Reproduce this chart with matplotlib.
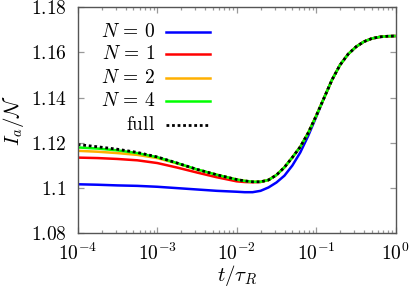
import matplotlib as mpl
mpl.use('agg')
import matplotlib.pyplot as plt
import numpy as np

mpl.rcParams['mathtext.fontset'] = 'cm'
mpl.rcParams['font.family'] = 'serif'
mpl.rcParams['font.serif'] = ['DejaVu Serif']

# log10(t / tau_R) grid
log_t = [-4.0, -3.75, -3.5, -3.25, -3.0, -2.75, -2.5, -2.25, -2.0,
         -1.9, -1.8, -1.7, -1.6, -1.5, -1.4, -1.3, -1.2, -1.1, -1.0,
         -0.9, -0.8, -0.7, -0.6, -0.5, -0.4, -0.3, -0.2, -0.1, 0.0]

full = [1.1193, 1.1183, 1.1172, 1.1158, 1.1138, 1.1111, 1.1083, 1.1059, 1.1038,
        1.1032, 1.1028, 1.1028, 1.1036, 1.1058, 1.1092, 1.1136, 1.1183, 1.1245, 1.1320,
        1.1400, 1.1480, 1.1545, 1.1592, 1.1625, 1.1648, 1.1662, 1.1669, 1.1672, 1.1673]

n0 = [1.1017, 1.1015, 1.1012, 1.1010, 1.1006, 1.1000, 1.0994, 1.0988, 1.0984,
      1.0982, 1.0982, 1.0988, 1.1003, 1.1025, 1.1055, 1.1100, 1.1158, 1.1232, 1.1315,
      1.1400, 1.1480, 1.1545, 1.1592, 1.1625, 1.1648, 1.1662, 1.1669, 1.1672, 1.1673]

n1 = [1.1135, 1.1133, 1.1129, 1.1123, 1.1111, 1.1091, 1.1069, 1.1048, 1.1030,
      1.1027, 1.1026, 1.1027, 1.1036, 1.1058, 1.1092, 1.1136, 1.1183, 1.1245, 1.1320,
      1.1400, 1.1480, 1.1545, 1.1592, 1.1625, 1.1648, 1.1662, 1.1669, 1.1672, 1.1673]

n2 = [1.1165, 1.1161, 1.1155, 1.1147, 1.1133, 1.1109, 1.1082, 1.1059, 1.1038,
      1.1032, 1.1028, 1.1028, 1.1036, 1.1058, 1.1092, 1.1136, 1.1183, 1.1245, 1.1320,
      1.1400, 1.1480, 1.1545, 1.1592, 1.1625, 1.1648, 1.1662, 1.1669, 1.1672, 1.1673]

n4 = [1.1180, 1.1175, 1.1167, 1.1155, 1.1137, 1.1111, 1.1083, 1.1059, 1.1038,
      1.1032, 1.1028, 1.1028, 1.1036, 1.1058, 1.1092, 1.1136, 1.1183, 1.1245, 1.1320,
      1.1400, 1.1480, 1.1545, 1.1592, 1.1625, 1.1648, 1.1662, 1.1669, 1.1672, 1.1673]

labels = [r'$N\,=\,0$', r'$N\,=\,1$', r'$N\,=\,2$', r'$N\,=\,4$', r'$\mathrm{full}$']
colors = ['#0000ff', '#ff0000', '#ffb000', '#00ff00', 'black']

t = 10.0 ** np.array(log_t)
series = [n0, n1, n2, n4, full]

fig = plt.figure(figsize=(4.09, 2.87), dpi=100)
ax = fig.add_axes([0.190, 0.187, 0.7775, 0.7876])

frame = '#555555'
tickc = '#999999'
for s in ax.spines.values():
    s.set_color(frame)
    s.set_linewidth(1.0)

for i, (y, c) in enumerate(zip(series, colors)):
    if i < 4:
        ax.plot(t, y, color=c, lw=1.8, solid_capstyle='butt')
    else:
        ax.plot(t, y, color=c, lw=2.0, linestyle=(0, (1, 1)))

ax.set_xscale('log')
ax.set_xlim(1e-4, 1)
ax.set_ylim(1.08, 1.18)

yt = [1.08, 1.1, 1.12, 1.14, 1.16, 1.18]
ax.set_yticks(yt)
ax.set_yticklabels(['$%g$' % v for v in yt])
xt = [1e-4, 1e-3, 1e-2, 1e-1, 1]
ax.set_xticks(xt)
ax.set_xticklabels([r'$10^{-4}$', r'$10^{-3}$', r'$10^{-2}$', r'$10^{-1}$', r'$10^{0}$'])

ax.tick_params(which='both', direction='in', top=True, right=True, colors=tickc,
               labelcolor='black', labelsize=14)
ax.tick_params(which='major', length=4, width=0.9)
ax.tick_params(which='minor', length=2, width=0.9)
ax.tick_params(axis='x', pad=7)
ax.tick_params(axis='y', pad=8)
ax.xaxis.set_minor_locator(mpl.ticker.LogLocator(base=10, subs=np.arange(2, 10)))
ax.xaxis.set_minor_formatter(mpl.ticker.NullFormatter())

ax.set_xlabel(r'$t/\tau_R$', fontsize=15, labelpad=-1)
ax.set_ylabel(r'$I_a/\mathcal{N}$', fontsize=15, labelpad=3)

# key drawn by hand: right-aligned labels, samples to the right
ky = [0.892, 0.792, 0.686, 0.585, 0.479]
for lab, c, yk, i in zip(labels, colors, ky, range(5)):
    ax.text(0.243, yk, lab, transform=ax.transAxes, ha='right', va='center', fontsize=14)
    if i < 4:
        ax.plot([0.277, 0.416], [yk, yk], transform=ax.transAxes, color=c, lw=1.8)
    else:
        ax.plot([0.277, 0.416], [yk, yk], transform=ax.transAxes, color=c, lw=2.0,
                linestyle=(0, (1, 1)))

fig.savefig('out.png', dpi=100)
